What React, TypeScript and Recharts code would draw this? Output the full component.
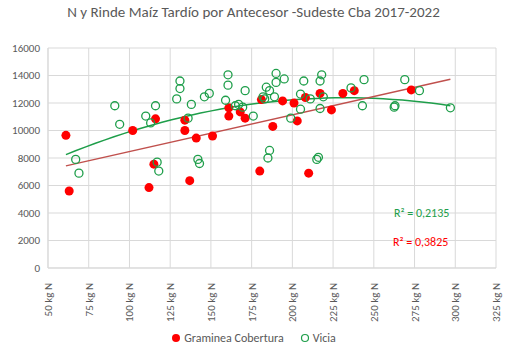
import { ScatterChart, Scatter, XAxis, YAxis, CartesianGrid } from 'recharts';

// Rinde (kg/ha) vs N disponible (kg N), por antecesor
const graminea = [
    [61, 9650], [63, 5600], [102, 10000], [112, 5850], [115, 7550], [116, 10850],
    [134, 10750], [134, 10000], [137, 6350], [141, 9450], [151, 9600], [161, 11650],
    [161, 11050], [168, 11350], [171, 10900], [180, 7050], [181, 12250], [188, 10300],
    [194, 12150], [201, 12000], [203, 10700], [208, 12400], [210, 6900], [217, 12700],
    [224, 11500], [231, 12700], [238, 12900], [273, 12950],
];

const vicia = [
    [67, 7900], [69, 6900], [91, 11800], [94, 10450], [110, 11050], [113, 10550],
    [116, 11800], [117, 7700], [118, 7050], [129, 12300], [131, 13600], [131, 13050],
    [136, 10900], [138, 11900], [142, 7900], [143, 7600], [146, 12450], [149, 12700],
    [159, 12200], [160.5, 14050], [160.5, 13300], [165, 11800], [167, 11900], [169.5, 11700],
    [171, 12900], [176, 11050], [182, 12450], [183, 12300], [184, 13150], [185, 8000],
    [186, 8550], [186, 12900], [189, 12450], [190, 13500], [190, 14150], [195, 13750],
    [199, 10900], [205, 12650], [205, 11550], [207, 13600], [211, 12300], [215, 7900],
    [216, 8050], [217, 13600], [218, 14050], [217, 11600], [219, 12450], [236, 13100],
    [243, 11800], [244, 13700], [262.5, 11700], [263, 11800], [269, 13700], [278, 12900],
    [297, 11650],
];

const xTicks = [50, 75, 100, 125, 150, 175, 200, 225, 250, 275, 300, 325];
const yTicks = [0, 2000, 4000, 6000, 8000, 10000, 12000, 14000, 16000];

const r2Vicia = 'R² = 0,2135';
const r2Graminea = 'R² = 0,3825';

const toPts = (arr: number[][]) => arr.map(([x, y]) => ({ x, y }));

// regresión por mínimos cuadrados (grado 1 o 2)
function fit(arr: number[][], deg: number) {
    const n = deg + 1;
    const A: number[][] = Array.from({ length: n }, () => Array(n + 1).fill(0));
    arr.forEach(([x, y]) => {
        for (let i = 0; i < n; i++) {
            for (let j = 0; j < n; j++) A[i][j] += Math.pow(x, i + j);
            A[i][n] += y * Math.pow(x, i);
        }
    });
    for (let i = 0; i < n; i++) {
        for (let k = i + 1; k < n; k++) {
            const f = A[k][i] / A[i][i];
            for (let j = i; j <= n; j++) A[k][j] -= f * A[i][j];
        }
    }
    const c = Array(n).fill(0);
    for (let i = n - 1; i >= 0; i--) {
        let s = A[i][n];
        for (let j = i + 1; j < n; j++) s -= A[i][j] * c[j];
        c[i] = s / A[i][i];
    }
    return (x: number) => c.reduce((acc, ci, i) => acc + ci * Math.pow(x, i), 0);
}

const allX = [...graminea, ...vicia].map((d) => d[0]);
const xMin = Math.min(...allX);
const xMax = Math.max(...allX);

function trend(arr: number[][], deg: number) {
    const f = fit(arr, deg);
    const steps = deg === 1 ? 1 : 40;
    return Array.from({ length: steps + 1 }, (_, i) => {
        const x = xMin + ((xMax - xMin) * i) / steps;
        return { x, y: f(x) };
    });
}

const gray = '#595959';
const font = 'Calibri, "Open Sans", "Liberation Sans", sans-serif';

const XTick = ({ x, y, payload }: any) => (
    <text
        x={x + 4}
        y={y + 7}
        transform={`rotate(-90, ${x + 4}, ${y + 7})`}
        textAnchor="end"
        fill={gray}
        fontSize={11}
        fontFamily={font}
    >
        {`${payload.value} kg N`}
    </text>
);

const RedDot = ({ cx, cy }: any) => <circle cx={cx} cy={cy} r={4.5} fill="#ff0000" />;
const GreenDot = ({ cx, cy }: any) => (
    <circle cx={cx} cy={cy} r={4} fill="none" stroke="#1e9e4a" strokeWidth={1.3} />
);
const NoDot = () => <g />;

export default function App() {
    return (
        <div style={{ position: 'absolute', left: 0, top: 0, width: 507, height: 353, background: '#fff', fontFamily: font }}>
            <div style={{ position: 'absolute', top: 3, left: 0, width: 507, textAlign: 'center', fontSize: 15, color: gray }}>
                N y Rinde Maíz Tardío por Antecesor -Sudeste Cba 2017-2022
            </div>
            <ScatterChart width={507} height={353} margin={{ top: 48, right: 11, bottom: 0, left: 0 }}>
                <CartesianGrid stroke="#d9d9d9" />
                <XAxis
                    type="number"
                    dataKey="x"
                    domain={[50, 325]}
                    ticks={xTicks}
                    interval={0}
                    height={85}
                    tick={<XTick />}
                    tickLine={false}
                    axisLine={{ stroke: '#d9d9d9' }}
                />
                <YAxis
                    type="number"
                    dataKey="y"
                    domain={[0, 16000]}
                    ticks={yTicks}
                    interval={0}
                    width={48}
                    tick={{ fill: gray, fontSize: 11, fontFamily: font }}
                    tickLine={false}
                    axisLine={{ stroke: '#d9d9d9' }}
                />
                <Scatter data={trend(vicia, 2)} line={{ stroke: '#1e9e4a', strokeWidth: 1.5 }} shape={<NoDot />} isAnimationActive={false} />
                <Scatter data={trend(graminea, 1)} line={{ stroke: '#c0504d', strokeWidth: 1.5 }} shape={<NoDot />} isAnimationActive={false} />
                <Scatter name="Graminea Cobertura" data={toPts(graminea)} shape={<RedDot />} isAnimationActive={false} />
                <Scatter name="Vicia" data={toPts(vicia)} shape={<GreenDot />} isAnimationActive={false} />
            </ScatterChart>
            <div style={{ position: 'absolute', left: 394, top: 206, fontSize: 12, color: '#1e9e4a' }}>{r2Vicia}</div>
            <div style={{ position: 'absolute', left: 393, top: 235, fontSize: 12, color: '#ff0000' }}>{r2Graminea}</div>
            <div style={{ position: 'absolute', left: 0, top: 331, width: 507, display: 'flex', justifyContent: 'center', alignItems: 'center', fontSize: 12, color: gray }}>
                <svg width={10} height={10} style={{ marginRight: 3 }}>
                    <circle cx={5} cy={5} r={4} fill="#ff0000" />
                </svg>
                <span>Graminea Cobertura</span>
                <svg width={10} height={10} style={{ marginLeft: 16, marginRight: 3 }}>
                    <circle cx={5} cy={5} r={3.5} fill="none" stroke="#1e9e4a" strokeWidth={1.2} />
                </svg>
                <span>Vicia</span>
            </div>
        </div>
    );
}
